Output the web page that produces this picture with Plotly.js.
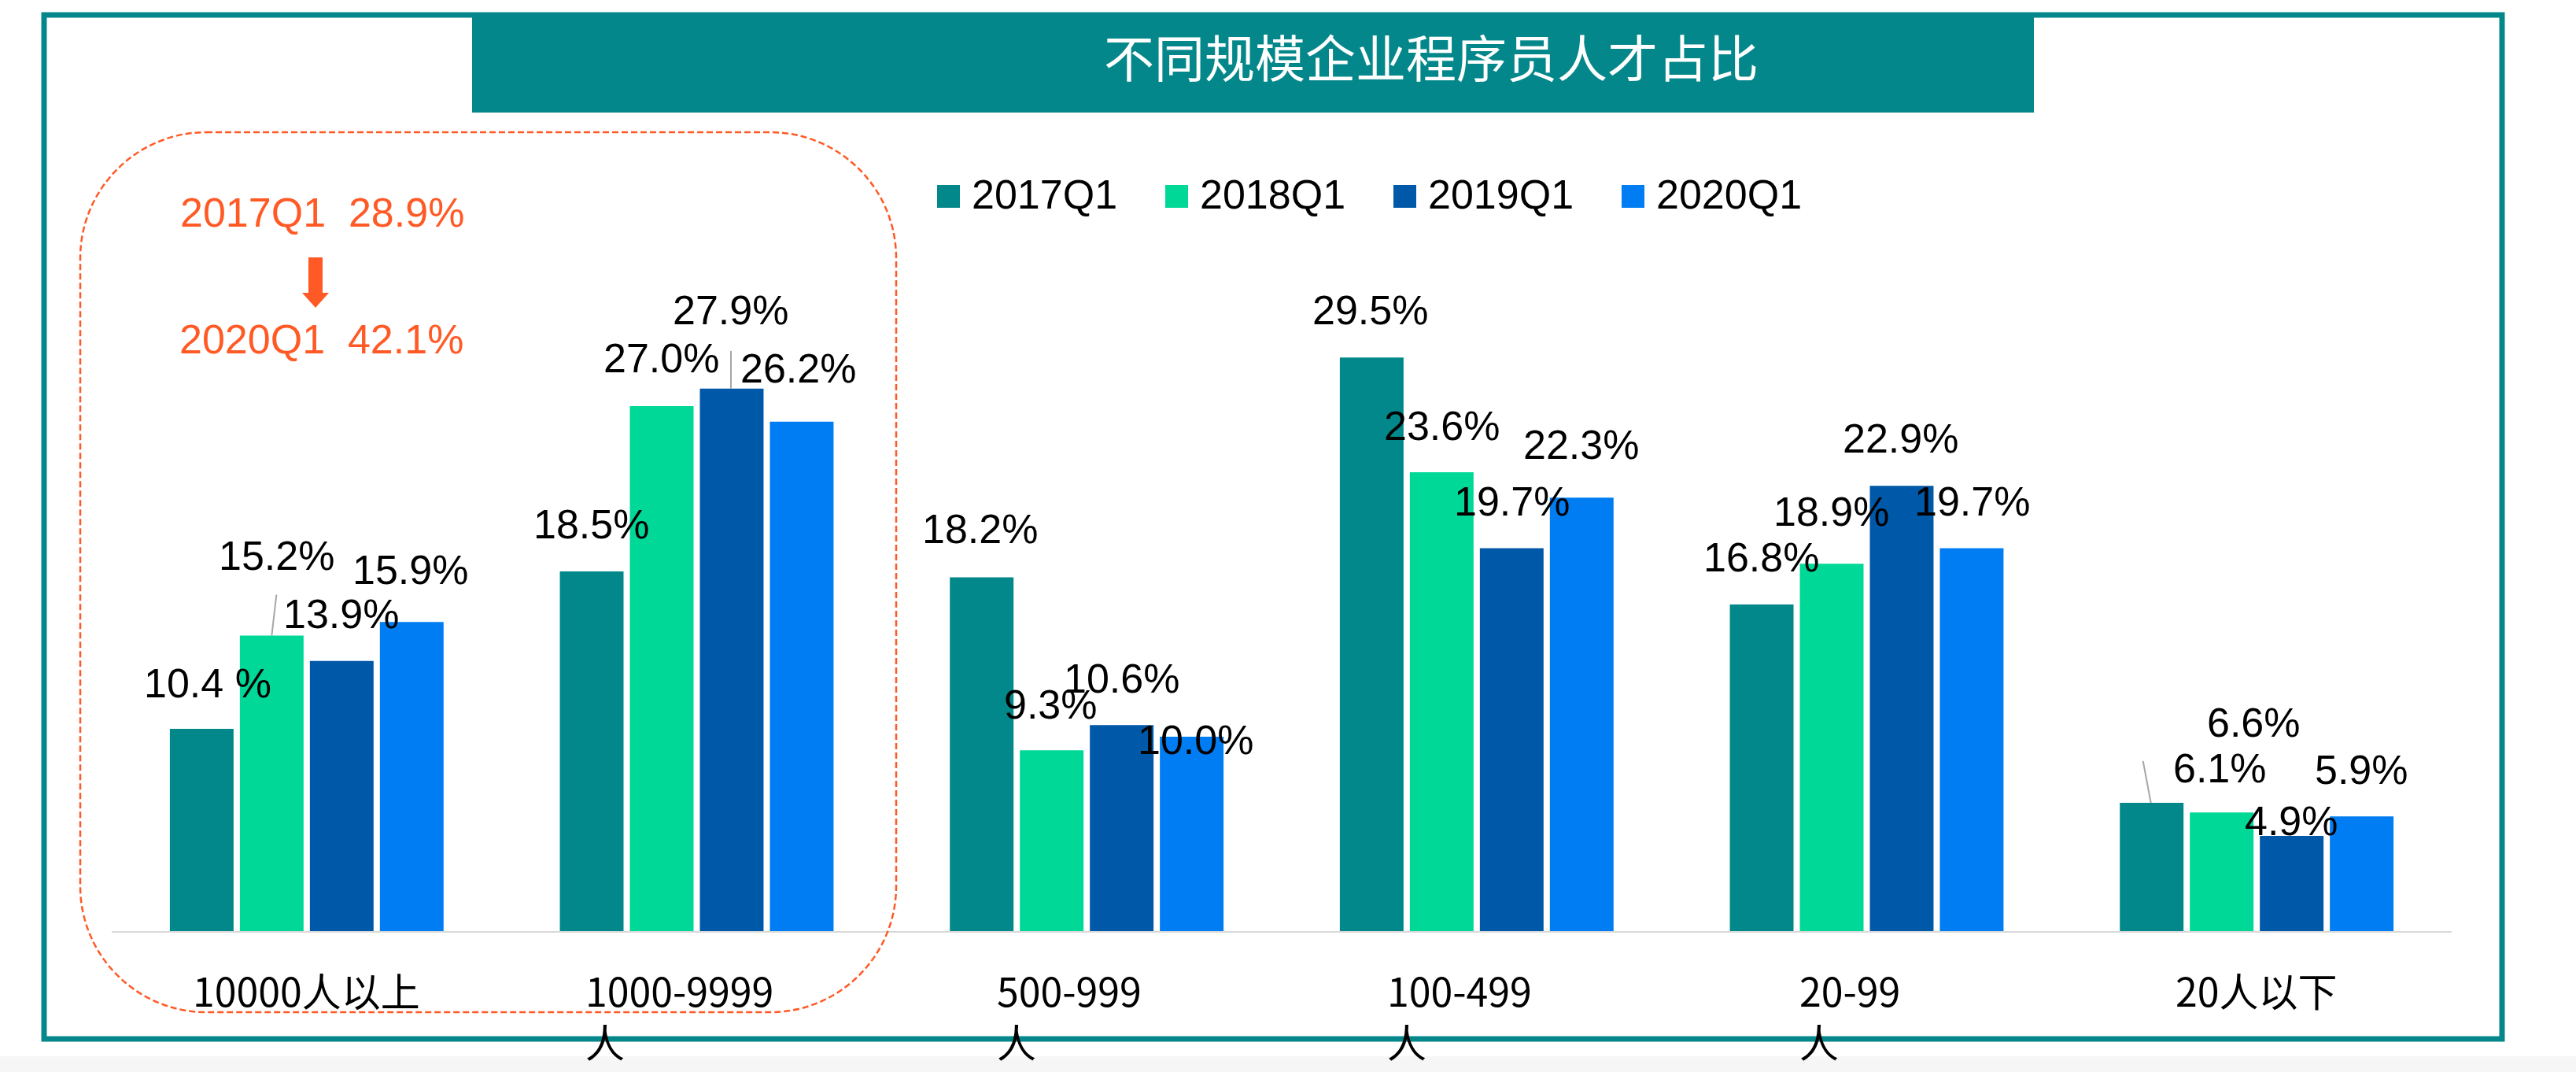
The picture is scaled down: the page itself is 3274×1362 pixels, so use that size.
<!DOCTYPE html>
<html><head><meta charset="utf-8">
<script src="https://cdn.plot.ly/plotly-3.0.1.min.js"></script>
<style>html,body{margin:0;padding:0;background:#fff;} #chart{width:3274px;height:1362px;}</style>
</head><body><div id="chart"></div>
<script>
// ---- data ----
const categories = ['10000人以上', '1000-9999人', '500-999人', '100-499人', '20-99人', '20人以下'];
const tickLabels = ['10000人以上', '1000-9999<br>人', '500-999<br>人', '100-499<br>人', '20-99<br>人', '20人以下'];
const seriesNames = ['2017Q1', '2018Q1', '2019Q1', '2020Q1'];
const v2017Q1 = [10.4, 18.5, 18.2, 29.5, 16.8, 6.6];
const v2018Q1 = [15.2, 27.0, 9.3, 23.6, 18.9, 6.1];
const v2019Q1 = [13.9, 27.9, 10.6, 19.7, 22.9, 4.9];
const v2020Q1 = [15.9, 26.2, 10.0, 22.3, 19.7, 5.9];
const chartTitle = '不同规模企业程序员人才占比';
const highlightTop = '2017Q1  28.9%';
const highlightBottom = '2020Q1  42.1%';

// ---- styles / layout constants ----
const seriesValues = [v2017Q1, v2018Q1, v2019Q1, v2020Q1];
const seriesColors = ['#02888A', '#00D897', '#0059A8', '#007DF2'];
const teal = '#04878A';
const orange = '#FF5A26';
const W = 3274, H = 1362, ML = 142, MR = 158, MT = 195, MB = 179;
const plotW = W - ML - MR, plotH = H - MT - MB;
const bargap = 0.282, groupgap = 0.09;
const catPx = plotW / categories.length;
const slot = catPx * (1 - bargap) / seriesNames.length;
const slotOff = s => (s - (seriesNames.length - 1) / 2) * slot;

// label offsets (px) of each value label centre from its bar-top centre: [dx, dy(down)]
const labelOffsets = [
  [[8, -58], [6, -102], [-1, -60], [-2, -66]],
  [[-1, -60], [-1, -61], [-1, -100], [-4, -68]],
  [[-2, -61], [-1, -58], [0, -59], [5, 4]],
  [[-2, -60], [0, -59], [0, -59], [-1, -67]],
  [[-1, -60], [-1, -66], [-1, -60], [1, -59]],
  [[130, -102], [-2, -56], [0, -19], [0, -59]]
];
// leader lines: [category index, series index, dx0, dx1, rise(px up)]
const leaders = [[0, 1, 0, 6, 52], [1, 2, -1, -1, 48], [5, 0, -1, -11, 53]];
const labelTextOverride = {'0,0': '10.4 %'};

const traces = seriesNames.map((name, s) => ({
  type: 'bar', name: name, x: categories, y: seriesValues[s],
  marker: {color: seriesColors[s], line: {width: 0}},
  hoverinfo: 'skip'
}));

// pixel helpers (absolute figure px -> shape pixel offsets from plot-area bottom-left)
const sx = x => x - ML;
const sy = y => (H - MB) - y;
function pxShape(o) {
  return Object.assign({xref: 'paper', yref: 'paper', xanchor: 0, yanchor: 0, xsizemode: 'pixel', ysizemode: 'pixel'}, o);
}
function pxRect(x0, y0, x1, y1, o) {
  return pxShape(Object.assign({type: 'rect', x0: sx(x0), x1: sx(x1), y0: sy(y1), y1: sy(y0)}, o));
}
const fx = x => (x - ML) / plotW;
const fy = y => (H - MB - y) / plotH;

const shapes = [];
// bottom grey band
shapes.push(pxRect(0, 1342, W, H, {fillcolor: '#F6F6F6', line: {width: 0}, layer: 'below'}));
// frame
shapes.push(pxRect(56, 19, 3180, 1320, {line: {color: teal, width: 7}, fillcolor: 'rgba(0,0,0,0)', layer: 'below'}));
// title banner
shapes.push(pxRect(600, 16, 2585, 143, {fillcolor: teal, line: {width: 0}, layer: 'below'}));
// dashed rounded highlight box
(function () {
  const L = sx(102), R = sx(1139), T = sy(168), B = sy(1286), r = 160, k = 88;
  const path = `M ${L + r},${T} L ${R - r},${T} C ${R - r + k},${T} ${R},${T - r + k} ${R},${T - r} ` +
    `L ${R},${B + r} C ${R},${B + r - k} ${R - r + k},${B} ${R - r},${B} ` +
    `L ${L + r},${B} C ${L + r - k},${B} ${L},${B + r - k} ${L},${B + r} ` +
    `L ${L},${T - r} C ${L},${T - r + k} ${L + r - k},${T} ${L + r},${T} Z`;
  shapes.push(pxShape({type: 'path', path: path, line: {color: orange, width: 2.5, dash: '8px,4px'}, fillcolor: 'rgba(0,0,0,0)', layer: 'above'}));
})();
// down arrow
(function () {
  const p = [[392, 327], [410, 327], [410, 372], [418, 372], [401, 391], [384, 372], [392, 372]];
  const path = 'M ' + p.map(q => sx(q[0]) + ',' + sy(q[1])).join(' L ') + ' Z';
  shapes.push(pxShape({type: 'path', path: path, fillcolor: orange, line: {width: 0}, layer: 'above'}));
})();
// custom legend squares
seriesNames.forEach((n, s) => {
  const x0 = 1191 + 290 * s;
  shapes.push(pxRect(x0, 235, x0 + 29, 264, {fillcolor: seriesColors[s], line: {width: 0}, layer: 'above'}));
});
// leader lines
leaders.forEach(([c, s, d0, d1, rise]) => {
  shapes.push({type: 'line', xref: 'x', yref: 'y', xsizemode: 'pixel', ysizemode: 'pixel',
    xanchor: categories[c], yanchor: seriesValues[s][c],
    x0: slotOff(s) + d0, x1: slotOff(s) + d1, y0: 0, y1: rise,
    line: {color: '#A6A6A6', width: 2}, layer: 'above'});
});

const annotations = [];
const numFont = {family: 'Liberation Sans, Arial, sans-serif', size: 52, color: '#000000'};
seriesValues.forEach((vals, s) => vals.forEach((v, c) => {
  const [dx, dy] = labelOffsets[c][s];
  const txt = labelTextOverride[c + ',' + s] || (v.toFixed(1) + '%');
  annotations.push({x: categories[c], y: v, xref: 'x', yref: 'y', text: txt, showarrow: false,
    xanchor: 'center', yanchor: 'middle', xshift: slotOff(s) + dx, yshift: -dy, font: numFont});
}));
// category labels
tickLabels.forEach((t, c) => {
  const wrapped = t.indexOf('<br>') >= 0;
  annotations.push({x: categories[c], y: 0, xref: 'x', yref: 'y', text: t, showarrow: false,
    xanchor: 'center', yanchor: 'top', align: 'left', yshift: -36, xshift: wrapped ? -22 : 0,
    font: {family: 'Noto Sans CJK SC, sans-serif', size: 50, color: '#000000'}});
});
// legend texts
seriesNames.forEach((n, s) => {
  annotations.push({x: fx(1233 + 290 * s), y: fy(247), xref: 'paper', yref: 'paper', text: n, showarrow: false,
    xanchor: 'left', yanchor: 'middle', font: numFont});
});
// highlight texts
annotations.push({x: fx(409), y: fy(270), xref: 'paper', yref: 'paper', text: highlightTop, showarrow: false,
  xanchor: 'center', yanchor: 'middle', font: {family: 'Liberation Sans, Arial, sans-serif', size: 52, color: orange}});
annotations.push({x: fx(408), y: fy(431), xref: 'paper', yref: 'paper', text: highlightBottom, showarrow: false,
  xanchor: 'center', yanchor: 'middle', font: {family: 'Liberation Sans, Arial, sans-serif', size: 52, color: orange}});

const layout = {
  width: W, height: H, autosize: false,
  margin: {l: ML, r: MR, t: MT, b: MB, pad: 0},
  paper_bgcolor: '#FFFFFF', plot_bgcolor: '#FFFFFF',
  showlegend: false,
  barmode: 'group', bargap: bargap, bargroupgap: groupgap,
  title: {text: chartTitle, font: {family: 'Noto Sans CJK SC, sans-serif', size: 64, color: '#FFFFFF'},
    xref: 'container', yref: 'container', x: 1819 / W, y: 1 - 76 / H, xanchor: 'center', yanchor: 'middle'},
  xaxis: {type: 'category', range: [-0.5, categories.length - 0.5], showline: true, linecolor: '#D9D9D9', linewidth: 2,
    showticklabels: false, ticks: '', showgrid: false, zeroline: false, fixedrange: true},
  yaxis: {range: [0, 40], visible: false, showgrid: false, zeroline: false, fixedrange: true},
  shapes: shapes, annotations: annotations
};

Plotly.newPlot('chart', traces, layout, {staticPlot: true, displayModeBar: false});
</script>
</body></html>
